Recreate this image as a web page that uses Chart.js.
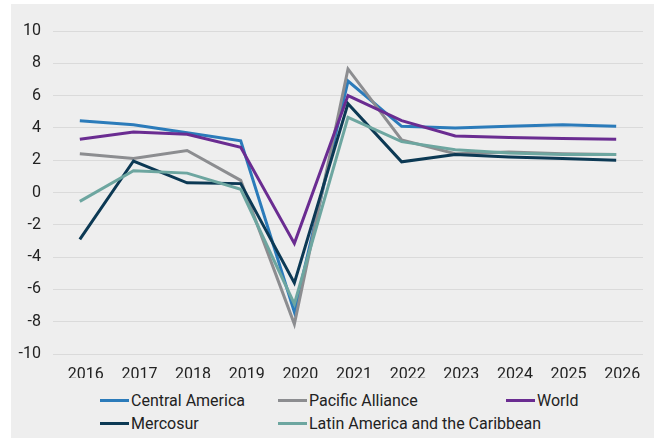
<!DOCTYPE html>
<html>
<head>
<meta charset="utf-8">
<script src="https://cdn.jsdelivr.net/npm/chart.js@4/dist/chart.umd.min.js"></script>
<style>
  body { margin: 0; background: #fff; font-family: Roboto, sans-serif; }
  #panel { position: absolute; left: 11px; top: 4px; width: 643px; height: 434px; background: #eeeeee; }
  #wrap { position: absolute; left: 0; top: 0; width: 643px; height: 374px; }
  .leg { position: absolute; display: flex; align-items: center; font-size: 16px; color: #222; white-space: nowrap; height: 20px; }
  .leg i { display: inline-block; width: 29px; height: 3px; margin-right: 2px; }
</style>
</head>
<body>
<div id="panel">
  <div id="wrap"><canvas id="chart"></canvas></div>
  <div id="legend"></div>
</div>
<script>
// ── Datos ─────────────────────────────────────────────────────
const years = ['2016', '2017', '2018', '2019', '2020', '2021', '2022', '2023', '2024', '2025', '2026'];
const centralAmerica = [4.45, 4.2, 3.7, 3.2, -7.4, 6.9, 4.1, 4.0, 4.1, 4.2, 4.1];
const pacificAlliance = [2.4, 2.1, 2.6, 0.75, -8.15, 7.65, 3.25, 2.4, 2.5, 2.4, 2.35];
const world = [3.3, 3.75, 3.6, 2.8, -3.15, 6.0, 4.45, 3.5, 3.4, 3.35, 3.3];
const mercosur = [-2.9, 1.95, 0.6, 0.55, -5.6, 5.5, 1.9, 2.35, 2.2, 2.1, 2.0];
const latinAmerica = [-0.55, 1.35, 1.2, 0.2, -6.9, 4.65, 3.15, 2.65, 2.45, 2.35, 2.35];

const series = [
    { label: 'Central America', data: centralAmerica, color: '#2b7bba' },
    { label: 'Pacific Alliance', data: pacificAlliance, color: '#8c8d90' },
    { label: 'World', data: world, color: '#6a2c91' },
    { label: 'Mercosur', data: mercosur, color: '#0c3954' },
    { label: 'Latin America and the Caribbean', data: latinAmerica, color: '#6da6a0' },
];

// ── Gráfico ───────────────────────────────────────────────────
Chart.defaults.font.family = 'Roboto, sans-serif';
new Chart(document.getElementById('chart'), {
    type: 'line',
    data: {
        labels: years,
        datasets: series.map((s, i) => ({
            label: s.label, data: s.data,
            borderColor: s.color, backgroundColor: s.color,
            borderWidth: 3, pointRadius: 0, tension: 0,
            order: series.length - i,
        }))
    },
    options: {
        responsive: true, maintainAspectRatio: false, animation: false,
        layout: { padding: { top: 27, right: 11, bottom: 0, left: 0 } },
        plugins: { legend: { display: false }, tooltip: { enabled: false } },
        scales: {
            x: {
                offset: true,
                grid: { display: false },
                border: { display: false },
                ticks: { font: { size: 16 }, color: '#222', padding: 3, labelOffset: 6, maxRotation: 0 },
                afterFit: s => { s.height = 24; }
            },
            y: {
                min: -10, max: 10,
                grid: { color: '#dadada', lineWidth: 1, drawTicks: false },
                border: { display: false },
                ticks: { stepSize: 2, font: { size: 16 }, color: '#222', padding: 12 },
                afterFit: s => { s.width = 42; }
            }
        }
    }
});

// ── Leyenda ───────────────────────────────────────────────────
const legendPos = [[89, 386], [267, 386], [495, 386], [89, 409], [267, 409]];
const legend = document.getElementById('legend');
series.forEach((s, i) => {
    const el = document.createElement('div');
    el.className = 'leg';
    el.style.left = legendPos[i][0] + 'px';
    el.style.top = legendPos[i][1] + 'px';
    el.innerHTML = `<i style="background:${s.color}"></i>${s.label}`;
    legend.appendChild(el);
});
</script>
</body>
</html>
